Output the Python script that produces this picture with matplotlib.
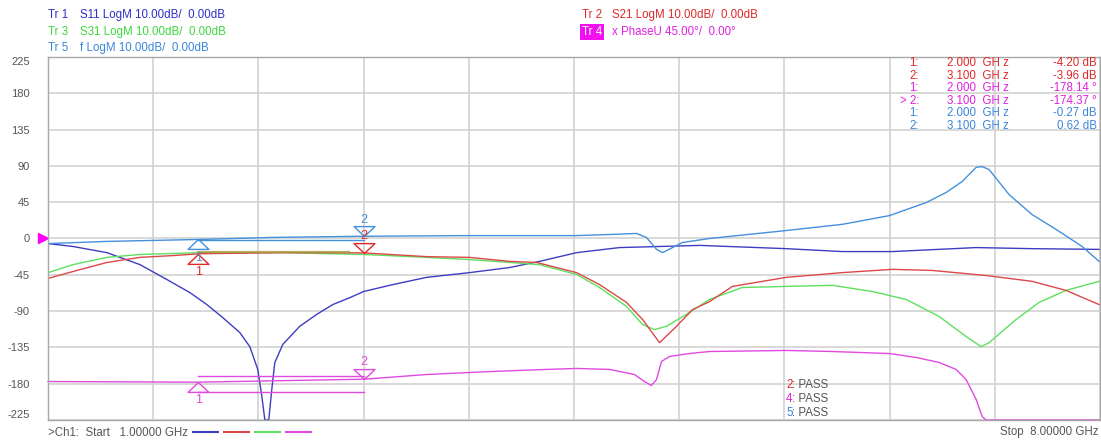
import matplotlib
matplotlib.use('Agg')
import matplotlib.pyplot as plt
import matplotlib.transforms as mtransforms
from matplotlib.path import Path
from matplotlib.lines import Line2D
import numpy as np

plt.rcParams['font.family'] = ['Liberation Sans', 'DejaVu Sans']

W, H = 1101, 441

# sweep
f_start, f_stop = 1.0, 8.0
db_per_div, deg_per_div = 10.0, 45.0
scale_db = deg_per_div / db_per_div   # dB traces drawn on the 45/div grid

# Tr 1  S11 (dB)
s11_f = [1.000, 1.166, 1.392, 1.612, 1.791, 1.944, 2.057, 2.163, 2.276, 2.343, 2.396,
         2.423, 2.443, 2.456, 2.469, 2.489, 2.509, 2.562, 2.675, 2.788, 2.895, 3.008,
         3.101, 3.294, 3.520, 3.805, 4.071, 4.271, 4.517, 4.803, 5.335, 5.913, 6.285,
         6.618, 7.176, 7.548, 7.994]
s11_db = [-1.4, -2.2, -3.9, -7.2, -11.3, -14.9, -18.2, -21.8, -25.9, -29.8, -36.1,
          -43.5, -53.0, -57.0, -53.0, -41.6, -34.2, -29.2, -24.2, -20.9, -18.2, -16.3,
          -14.6, -12.7, -10.7, -9.4, -8.0, -6.3, -3.9, -2.5, -1.9, -2.8, -3.6,
          -3.6, -2.5, -2.8, -3.0]

# Tr 2  S21 (dB)
s21_f = [1.000, 1.166, 1.392, 1.612, 1.831, 2.010, 2.562, 3.101, 3.520, 3.805, 4.071,
         4.251, 4.517, 4.670, 4.849, 4.956, 5.069, 5.182, 5.288, 5.401, 5.554, 5.913,
         6.285, 6.618, 6.884, 7.243, 7.548, 7.774, 7.994]
s21_db = [-11.0, -9.1, -6.6, -5.2, -4.7, -4.2, -3.9, -3.96, -5.0, -5.2, -6.3,
          -6.6, -9.4, -12.7, -17.6, -22.3, -28.7, -24.2, -19.6, -17.4, -13.2, -10.7,
          -9.4, -8.5, -8.8, -10.2, -11.8, -14.3, -18.2]

# Tr 3  S31 (dB)
s31_f = [1.000, 1.166, 1.392, 1.612, 2.010, 2.562, 3.101, 3.520, 3.805, 4.071, 4.271,
         4.517, 4.670, 4.849, 4.956, 5.035, 5.115, 5.248, 5.401, 5.620, 5.913, 6.219,
         6.485, 6.711, 6.930, 7.109, 7.209, 7.262, 7.442, 7.595, 7.774, 7.994]
s31_db = [-9.4, -7.2, -5.2, -4.4, -3.9, -3.9, -4.4, -5.2, -5.8, -6.6, -7.2,
          -9.9, -13.5, -18.7, -23.7, -25.1, -24.2, -20.9, -16.8, -13.5, -13.2, -12.9,
          -14.6, -16.8, -21.5, -27.0, -29.8, -28.7, -22.3, -17.6, -14.3, -11.8]

# Tr 4  phase (deg, unwrapped)
ph_f = [1.000, 1.997, 3.107, 3.520, 3.959, 4.318, 4.517, 4.736, 4.902, 4.969, 5.015,
        5.049, 5.082, 5.135, 5.268, 5.401, 5.913, 6.219, 6.598, 6.778, 6.930, 7.043,
        7.109, 7.176, 7.216, 7.242, 7.994]
ph_deg = [-177.3, -178.1, -174.4, -168.6, -164.8, -162.3, -161.1, -162.3, -168.6, -177.3, -182.2,
          -174.8, -152.5, -146.3, -142.6, -140.1, -138.8, -140.1, -142.6, -147.5, -153.7, -162.4,
          -174.8, -199.6, -220.7, -235.0, -260.0]

# Tr 5  f (dB)
t5_f = [1.000, 1.392, 1.997, 2.496, 3.107, 3.805, 4.517, 4.803, 4.916, 4.982, 5.049,
        5.089, 5.155, 5.222, 5.401, 5.913, 6.285, 6.598, 6.844, 6.977, 7.083, 7.176,
        7.216, 7.262, 7.395, 7.548, 7.708, 7.881, 7.994]
t5_db = [-1.4, -0.8, -0.27, 0.3, 0.62, 0.8, 0.8, 1.2, 1.4, 0.3, -3.0,
         -3.9, -2.5, -1.1, 0.0, 2.2, 3.9, 6.3, 9.9, 12.7, 15.7, 19.6,
         19.8, 19.0, 12.1, 6.6, 2.5, -2.2, -6.3]

# markers
mk_f = [2.0, 3.1]
mk_s21 = [-4.20, -3.96]
mk_ph = [-178.14, -174.37]
mk_t5 = [-0.27, 0.62]

# limit lines
lim_f = [2.0, 3.1]
lim_ph_hi, lim_ph_lo = -170.0, -190.0
lim_t5 = -0.5
lim_s21 = -3.8
lim_s21_f = [2.0, 3.0]

c_s11 = '#3d3dc4'
c_s21 = '#dc4848'
c_s31 = '#5ee05e'
c_ph = '#e04ae0'
c_t5 = '#4490dc'
c_txt_s11 = '#2d2dc8'
c_txt_s21 = '#e02828'
c_txt_s31 = '#3ad83a'
c_txt_ph = '#e020e0'
c_txt_t5 = '#3a86dc'
gray = '#555555'

fig = plt.figure(figsize=(W / 100, H / 100), dpi=100)
ax = fig.add_axes([48 / W, 21 / H, 1052 / W, 363 / H])
ax.set_xlim(f_start, f_stop)
ax.set_ylim(-225, 225)


def clipv(v):
    return np.clip(np.asarray(v, dtype=float), -225, 225)


ax.plot(s11_f, clipv(np.array(s11_db) * scale_db), color=c_s11, lw=1.0)
ax.plot(s31_f, clipv(np.array(s31_db) * scale_db), color=c_s31, lw=1.0)
ax.plot(s21_f, clipv(np.array(s21_db) * scale_db), color=c_s21, lw=1.0)
ax.plot(t5_f, clipv(np.array(t5_db) * scale_db), color=c_t5, lw=1.0)
ax.plot(ph_f, clipv(ph_deg), color=c_ph, lw=1.0, clip_on=False)

# limit lines
ax.plot(lim_f, [lim_ph_hi] * 2, color=c_ph, lw=1.0)
ax.plot(lim_f, [lim_ph_lo] * 2, color=c_ph, lw=1.0)
ax.plot(lim_f, [lim_t5 * scale_db] * 2, color=c_t5, lw=1.0)
ax.plot(lim_s21_f, [lim_s21 * scale_db] * 2, color='#a89a40', lw=1.6, alpha=0.8)

# grid
ax.set_xticks(np.linspace(f_start, f_stop, 11))
ax.set_yticks(np.arange(-225, 226, 45))
ax.grid(True, color='#d2d2d2', lw=1.2)
ax.tick_params(length=0, labelbottom=False, labelsize=8, labelcolor=gray, pad=13)
ax.set_yticklabels([str(v) for v in range(-225, 226, 45)])
labs = ax.get_yticklabels()
labs[0].set_va('bottom')
labs[-1].set_va('top')
for s in ax.spines.values():
    s.set_color('#a8a8a8')
    s.set_linewidth(1.0)

# marker triangles (apex on the trace)
tri_up = Path([(0, 0), (-1, -0.95), (1, -0.95), (0, 0)], closed=True)
tri_dn = Path([(0, 0), (-1, 0.95), (1, 0.95), (0, 0)], closed=True)


def marker(x, y, up, color, label):
    ax.plot([x], [y], marker=tri_up if up else tri_dn, ms=15, mfc='none',
            mec=color, mew=1.0, ls='none')
    ax.annotate(label, (x, y), xytext=(0, -13 if up else 12), textcoords='offset points',
                ha='center', va='center', color=color, fontsize=9)


for i, (f, v) in enumerate(zip(mk_f, mk_t5)):
    marker(f, v * scale_db, i == 0, c_t5, str(i + 1))
for i, (f, v) in enumerate(zip(mk_f, mk_s21)):
    marker(f, v * scale_db, i == 0, c_txt_s21, str(i + 1))
for i, (f, v) in enumerate(zip(mk_f, mk_ph)):
    marker(f, v, i == 0, c_ph, str(i + 1))

# reference position arrow
trans = mtransforms.blended_transform_factory(ax.transAxes, ax.transData)
ax.plot([-0.0052], [0], marker='>', ms=7, color='#ff00ff', transform=trans, clip_on=False)


def ftext(x, y, s, **kw):
    kw.setdefault('fontsize', 8.3)
    kw.setdefault('va', 'center')
    return fig.text(x / W, 1 - y / H, s, **kw)


# header
ftext(48, 15, 'Tr 1', color=c_txt_s11)
ftext(80, 15, 'S11 LogM 10.00dB/  0.00dB', color=c_txt_s11)
ftext(48, 32, 'Tr 3', color=c_txt_s31)
ftext(80, 32, 'S31 LogM 10.00dB/  0.00dB', color=c_txt_s31)
ftext(48, 48, 'Tr 5', color=c_txt_t5)
ftext(80, 48, 'f LogM 10.00dB/  0.00dB', color=c_txt_t5)
ftext(582, 15, 'Tr 2', color=c_txt_s21)
ftext(612, 15, 'S21 LogM 10.00dB/  0.00dB', color=c_txt_s21)
ftext(582, 32, 'Tr 4', color='white',
      bbox=dict(facecolor='#f010f0', edgecolor='none', pad=1.2))
ftext(612, 32, 'x PhaseU 45.00\u00b0/  0.00\u00b0', color=c_txt_ph)

# marker table
rows = [('1:', mk_f[0], '%.2f dB' % mk_s21[0], c_txt_s21),
        ('2:', mk_f[1], '%.2f dB' % mk_s21[1], c_txt_s21),
        ('1:', mk_f[0], '%.2f \u00b0' % mk_ph[0], c_txt_ph),
        ('> 2:', mk_f[1], '%.2f \u00b0' % mk_ph[1], c_txt_ph),
        ('1:', mk_f[0], '%.2f dB' % mk_t5[0], c_txt_t5),
        ('2:', mk_f[1], '%.2f dB' % mk_t5[1], c_txt_t5)]
for i, (idx, f, val, col) in enumerate(rows):
    y = 63 + i * 12.6
    ftext(919, y, idx, color=col, ha='right')
    ftext(947, y, '%.3f  GH z' % f, color=col)
    ftext(1097, y, val, color=col, ha='right')

# pass/fail
for i, (n, col) in enumerate([('2', c_txt_s21), ('4', c_txt_ph), ('5', c_txt_t5)]):
    y = 385 + i * 14
    ftext(786, y, n, color=col)
    ftext(792, y, ': PASS', color=gray)

# footer
ftext(48, 433, '>Ch1:  Start   1.00000 GHz', color=gray)
ftext(1099, 432, 'Stop  8.00000 GHz', color=gray, ha='right')
for x0, col in zip([193, 224, 255, 286], [c_s11, c_s21, c_s31, c_ph]):
    fig.add_artist(Line2D([x0 / W, (x0 + 25) / W], [1 - 432 / H] * 2, color=col, lw=1.5))

fig.savefig('out.png', dpi=100)
